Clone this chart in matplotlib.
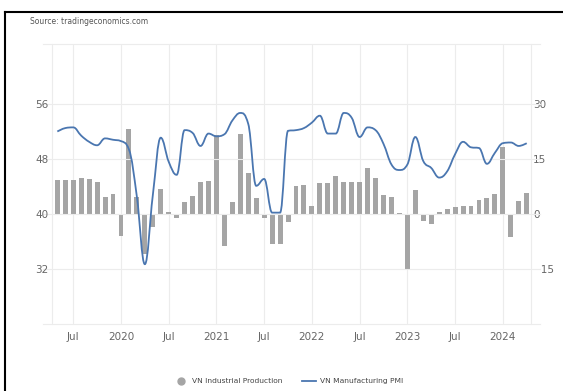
import numpy as np
import matplotlib
matplotlib.use("Agg")
import matplotlib.pyplot as plt
from matplotlib.path import Path
from matplotlib.patches import PathPatch
from matplotlib.lines import Line2D
import matplotlib.transforms as mtransforms

# meses desde enero 2020 (0 = Jan 2020); primer dato = May 2019
months = np.arange(-8, 52)

# VN Industrial Production (YoY %, eje derecho)
industrial = [9.3, 9.3, 9.3, 9.8, 9.6, 8.6, 4.7, 5.5, -5.9, 23.1, 4.7, -11.0,
              -3.5, 6.7, 0.5, -1.2, 3.4, 4.9, 8.6, 8.9, 21.5, -8.7, 3.4, 21.7,
              11.3, 4.5, -1.2, -8.3, -8.1, -2.1, 7.6, 8.0, 2.3, 8.5, 8.5, 10.5,
              8.6, 8.6, 8.8, 12.6, 9.8, 5.1, 4.7, 0.3, -15.3, 6.5, -1.9, -2.7,
              0.6, 1.3, 2.0, 2.2, 2.3, 3.8, 4.5, 5.4, 18.2, -6.2, 3.5, 5.8]

# VN Manufacturing PMI (eje izquierdo)
pmi = [52.0, 52.5, 52.6, 51.4, 50.5, 50.0, 51.0, 50.8, 50.6, 49.4, 42.5, 32.7,
       42.7, 51.1, 47.6, 45.7, 52.2, 51.8, 49.9, 51.7, 51.3, 51.6, 53.6, 54.7,
       53.1, 44.1, 45.1, 40.2, 40.2, 52.1, 52.2, 52.5, 53.3, 54.3, 51.7, 51.7,
       54.7, 54.0, 51.2, 52.6, 52.2, 50.2, 47.2, 46.4, 47.2, 51.2, 47.7, 46.7,
       45.3, 46.2, 48.7, 50.5, 49.7, 49.6, 47.3, 48.9, 50.3, 50.4, 49.9, 50.3]

tick_pos = [-6, 0, 6, 12, 18, 24, 30, 36, 42, 48]
tick_lbl = ['Jul', '2020', 'Jul', '2021', 'Jul', '2022', 'Jul', '2023', 'Jul', '2024']
left_ticks = [32, 40, 48, 56]
right_ticks = [-15, 0, 15, 30]

bar_color = '#a5a5a5'
line_color = '#4a76b0'
grid_color = '#ececec'
text_color = '#666666'


# puntos de control como el "spline" de highcharts (sin sobrepasar extremos)
def spline_path(x, y, smoothing=1.5):
    denom = smoothing + 1
    n = len(x)
    lc = [None] * n
    rc = [None] * n
    for i in range(n):
        if i == 0 or i == n - 1:
            lc[i] = (x[i], y[i])
            rc[i] = (x[i], y[i])
            continue
        lx = (smoothing * x[i] + x[i-1]) / denom
        ly = (smoothing * y[i] + y[i-1]) / denom
        rx = (smoothing * x[i] + x[i+1]) / denom
        ry = (smoothing * y[i] + y[i+1]) / denom
        corr = (ry - ly) * (rx - x[i]) / (rx - lx) + y[i] - ry
        ly += corr
        ry += corr
        if ly > y[i-1] and ly > y[i]:
            ly = max(y[i-1], y[i])
            ry = 2 * y[i] - ly
        elif ly < y[i-1] and ly < y[i]:
            ly = min(y[i-1], y[i])
            ry = 2 * y[i] - ly
        if ry > y[i+1] and ry > y[i]:
            ry = max(y[i+1], y[i])
            ly = 2 * y[i] - ry
        elif ry < y[i+1] and ry < y[i]:
            ry = min(y[i+1], y[i])
            ly = 2 * y[i] - ry
        lc[i] = (lx, ly)
        rc[i] = (rx, ry)
    verts = [(x[0], y[0])]
    codes = [Path.MOVETO]
    for i in range(1, n):
        verts += [rc[i-1], lc[i], (x[i], y[i])]
        codes += [Path.CURVE4] * 3
    return Path(verts, codes)


fig = plt.figure(figsize=(5.63, 3.91), dpi=100)
ax = fig.add_axes([52/563, 67/391, 479/563, 280/391])
ax2 = ax.twinx()

ax.set_xlim(-8.67, 51.54)
ax.set_ylim(24, 64.73)
ax2.set_ylim(-30, 46.37)

# barras (eje derecho)
ax2.bar(months, industrial, width=0.62, color=bar_color, zorder=2)

# lineas de grilla horizontales (un poco mas anchas que el area)
tr = mtransforms.blended_transform_factory(ax.transAxes, ax.transData)
for yv in left_ticks + [24, 64.73]:
    ax.add_line(Line2D([-0.019, 1.019], [yv, yv], transform=tr, color=grid_color,
                       lw=0.8, clip_on=False, zorder=0))
for xv in tick_pos:
    ax2.axvline(xv, color=grid_color, lw=0.8, zorder=0)

ax.add_patch(PathPatch(spline_path(np.array(months, float), np.array(pmi)),
                       facecolor='none', edgecolor=line_color, lw=1.3, zorder=3))

ax.set_zorder(ax2.get_zorder() + 1)
ax.patch.set_visible(False)

ax.set_xticks(tick_pos)
ax.set_xticklabels(tick_lbl)
ax.set_yticks(left_ticks)
ax2.set_yticks(right_ticks)
ax.tick_params(axis='x', length=0, pad=6, labelsize=7.5, colors=text_color)
ax.tick_params(axis='y', length=0, pad=2.5, labelsize=7.5, colors=text_color)
ax2.tick_params(axis='y', length=0, pad=1.5, labelsize=7.5, colors=text_color)

for a in (ax, ax2):
    for s in a.spines.values():
        s.set_visible(False)
ax2.spines['left'].set_visible(True)
ax2.spines['right'].set_visible(True)
ax2.spines['left'].set_color(grid_color)
ax2.spines['right'].set_color(grid_color)

# marco negro
fig.add_artist(Line2D([5/563, 1], [1 - 12/391, 1 - 12/391], color='black', lw=1.5))
fig.add_artist(Line2D([5/563, 5/563], [0, 1 - 12/391], color='black', lw=1.5))

fig.text(30/563, 1 - 22/391, 'Source: tradingeconomics.com', fontsize=5.5,
         color='#555555', va='center')

handles = [Line2D([], [], marker='o', ls='none', color=bar_color, markersize=5),
           Line2D([], [], color=line_color, lw=1.3)]
fig.legend(handles, ['VN Industrial Production', 'VN Manufacturing PMI'],
           loc='center', bbox_to_anchor=(0.512, 10/391), ncol=2, frameon=False,
           fontsize=5.4, labelcolor='#444444', handlelength=1.9, handletextpad=0.5,
           columnspacing=2.6)

fig.savefig('out.png', dpi=100)
